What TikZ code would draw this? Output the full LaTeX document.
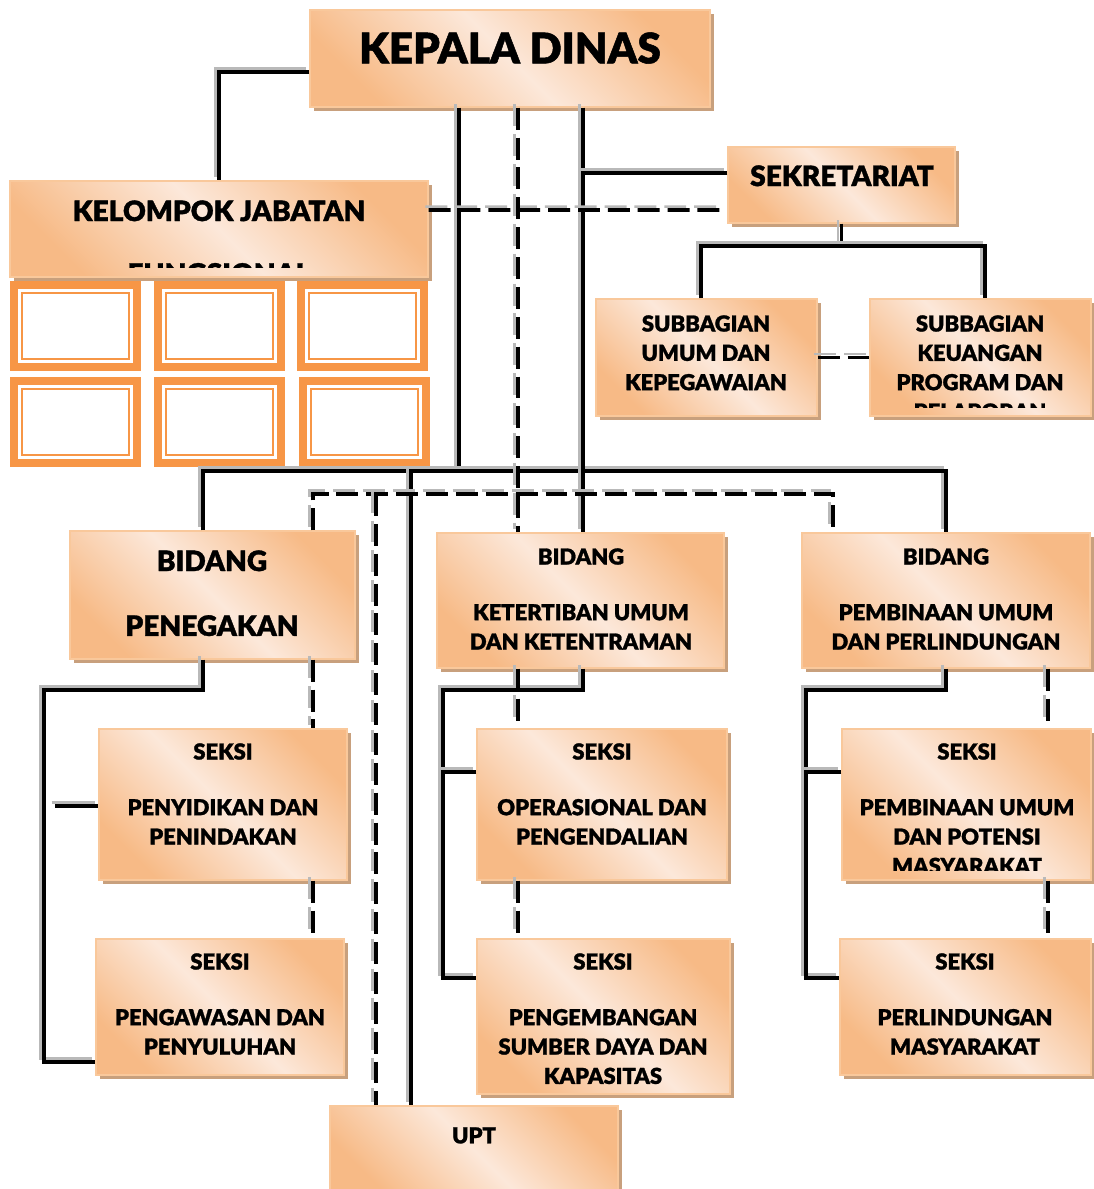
\documentclass[tikz,border=0pt]{standalone}
\usepackage{fontspec}
\newfontfamily\heavy{Lato Black}[FakeBold=1.2]
\usetikzlibrary{positioning,shadows}

\definecolor{peachD}{RGB}{247,186,134}
\definecolor{peachL}{RGB}{252,232,218}
\definecolor{boxedge}{RGB}{249,200,155}
\definecolor{shadowc}{RGB}{200,160,125}
\definecolor{frameor}{RGB}{247,150,70}

\tikzset{
  box/.style={draw=boxedge, line width=0.8pt, inner sep=0pt,
    top color=peachD, bottom color=peachD, middle color=peachL, shading angle=-45,
    drop shadow={shadow xshift=0.08cm, shadow yshift=-0.08cm, fill=shadowc, opacity=1}},
  frm/.style={anchor=north west, fill=frameor, minimum width=2.62cm, minimum height=1.8cm,
    inner sep=0pt, outer sep=0pt,
    path picture={
      \fill[white] ([shift={(0.16cm,-0.16cm)}]path picture bounding box.north west)
        rectangle ([shift={(-0.16cm,0.16cm)}]path picture bounding box.south east);
      \draw[frameor, line width=1.3pt] ([shift={(0.24cm,-0.24cm)}]path picture bounding box.north west)
        rectangle ([shift={(-0.24cm,0.24cm)}]path picture bounding box.south east);}},
  txt/.style={anchor=north, inner sep=0pt, align=center, font=\heavy\fontsize{12.5}{16.7}\selectfont},
  bigtxt/.style={anchor=north, inner sep=0pt, align=center},
  conn/.style={draw=black, line width=2pt,
    preaction={draw=gray!55, line width=1.4pt, transform canvas={xshift=-1.9pt, yshift=1.9pt}}},
  dconn/.style={draw=black, line width=2pt, dash pattern=on 12.5pt off 4.5pt,
    preaction={draw=gray!55, line width=1.4pt, dash pattern=on 12.5pt off 4.5pt,
      transform canvas={xshift=-1.9pt, yshift=1.9pt}}}
}

\begin{document}
\begin{tikzpicture}[x=0.02cm, y=-0.02cm]
\useasboundingbox (0,0) rectangle (1093,1189);

% boxes
\node[box, minimum width=8cm, minimum height=1.94cm] (kd) at (510,58.5) {};
\node[box, minimum width=8.36cm, minimum height=1.92cm] (kjf) at (219,229) {};
\node[box, minimum width=4.54cm, minimum height=1.52cm] (sek) at (841.5,185) {};
\node[box, minimum width=4.42cm, minimum height=2.34cm] (sbu) at (706.5,357.5) {};
\node[box, minimum width=4.42cm, minimum height=2.34cm] (sbk) at (980.5,357.5) {};
\node[box, minimum width=5.7cm, minimum height=2.56cm] (bpg) at (212.5,595) {};
\node[box, minimum width=5.74cm, minimum height=2.7cm] (bkt) at (580.5,600.5) {};
\node[box, minimum width=5.76cm, minimum height=2.7cm] (bpb) at (946,600.5) {};
\node[box, minimum width=4.96cm, minimum height=3.02cm] (s1) at (223,804.5) {};
\node[box, minimum width=4.96cm, minimum height=2.72cm] (s2) at (220,1007) {};
\node[box, minimum width=5cm, minimum height=3.02cm] (s3) at (602,804.5) {};
\node[box, minimum width=5.06cm, minimum height=3.1cm] (s4) at (603.5,1016.5) {};
\node[box, minimum width=4.98cm, minimum height=3.02cm] (s5) at (966.5,804.5) {};
\node[box, minimum width=5.02cm, minimum height=2.72cm] (s6) at (965.5,1007) {};
\node[box, minimum width=5.76cm, minimum height=1.76cm] (upt) at (474,1150) {};

% jabatan fungsional frames
\node[frm] (f1) at (10,281) {};
\node[frm] (f2) at (154,281) {};
\node[frm] (f3) at (297,281) {};
\node[frm] (f4) at (10,377) {};
\node[frm] (f5) at (154,377) {};
\node[frm] (f6) at (299,377) {};

% texts
\node[bigtxt, font=\heavy\fontsize{24}{28}\selectfont] (kdtxt) at (510,32) {KEPALA DINAS};
\begin{scope}
\clip ([yshift=0.2cm]kjf.south west) rectangle (kjf.north east);
\node[bigtxt, font=\heavy\fontsize{16}{35.7}\selectfont] (kjftxt) at (219,200) {KELOMPOK JABATAN\\FUNGSIONAL};
\end{scope}
\node[bigtxt, font=\heavy\fontsize{16}{20}\selectfont] (sektxt) at (842,165) {SEKRETARIAT};
\node[txt] (sbutxt) at (706,315) {SUBBAGIAN\\UMUM DAN\\KEPEGAWAIAN};
\begin{scope}
\clip ([yshift=0.18cm]sbk.south west) rectangle (sbk.north east);
\node[txt] (sbktxt) at (980,315) {SUBBAGIAN\\KEUANGAN\\PROGRAM DAN\\PELAPORAN};
\end{scope}
\node[bigtxt, font=\heavy\fontsize{16}{36.9}\selectfont] (bpgtxt) at (212,550) {BIDANG\\PENEGAKAN};
\node[txt] (bkttxt) at (581,548) {BIDANG\\[15pt]KETERTIBAN UMUM\\DAN KETENTRAMAN};
\node[txt] (bpbtxt) at (946,548) {BIDANG\\[15pt]PEMBINAAN UMUM\\DAN PERLINDUNGAN};
\node[txt] (s1txt) at (223,743) {SEKSI\\[15pt]PENYIDIKAN DAN\\PENINDAKAN};
\node[txt] (s2txt) at (220,953) {SEKSI\\[15pt]PENGAWASAN DAN\\PENYULUHAN};
\node[txt] (s3txt) at (602,743) {SEKSI\\[15pt]OPERASIONAL DAN\\PENGENDALIAN};
\node[txt] (s4txt) at (603,953) {SEKSI\\[15pt]PENGEMBANGAN\\SUMBER DAYA DAN\\KAPASITAS};
\begin{scope}
\clip ([yshift=0.2cm]s5.south west) rectangle (s5.north east);
\node[txt] (s5txt) at (967,743) {SEKSI\\[15pt]PEMBINAAN UMUM\\DAN POTENSI\\MASYARAKAT};
\end{scope}
\node[txt] (s6txt) at (965,953) {SEKSI\\[15pt]PERLINDUNGAN\\MASYARAKAT};
\node[txt] (upttxt) at (474,1127) {UPT};

% helper points
\coordinate (bus) at (459,471);
\coordinate (upl) at (411,471);
\coordinate (dbus) at (376,494);
\coordinate (xk) at (583,0);
\coordinate (xl) at (313,0);
\coordinate (xm) at (518,0);
\coordinate (xr) at (1048,0);
\coordinate (st) at (841.5,246);
\coordinate (lk) at (44,690);
\coordinate (mk) at (443,690);
\coordinate (rk) at (806,690);
\coordinate (lt) at (55,806);

% solid lines
\draw[conn] ([yshift=-0.27cm]kd.west) -| (kjf.north);
\draw[conn] (kd.south -| bus) -- (bus);
\draw[conn] ([xshift=-0.19cm]bpg.north) |- (bus) -| (bpb.north);
\draw[conn] (upl) -- (upl |- upt.north);
\draw[conn] (kd.south -| xk) -- (bkt.north -| xk);
\draw[conn] ([yshift=0.24cm]sek.west) -- ([yshift=0.24cm]sek.west -| xk);
\draw[conn] (sek.south) -- (st);
\draw[conn] ([xshift=-0.11cm]sbu.north) |- (st) -| ([xshift=0.09cm]sbk.north);
\draw[conn] ([xshift=-0.19cm]bpg.south) |- (lk) |- ([yshift=-1.1cm]s2.west);
\draw[conn] (lt) -- (lt -| s1.west);
\draw[conn] (bkt.south -| xk) |- (mk) |- ([yshift=0.77cm]s4.west);
\draw[conn] ([yshift=0.65cm]s3.west) -- ([yshift=0.65cm]s3.west -| mk);
\draw[conn] (bpb.south) |- (rk) |- ([yshift=0.58cm]s6.west);
\draw[conn] ([yshift=0.65cm]s5.west) -- ([yshift=0.65cm]s5.west -| rk);

% dashed lines
\draw[dconn] ([yshift=0.38cm]kjf.east) -- ([yshift=-0.5cm]sek.west);
\draw[dconn] (kd.south -| xm) -- (bkt.north -| xm);
\draw[dconn] (bpg.north -| xl) |- (dbus) -| ([xshift=-2.26cm]bpb.north);
\draw[dconn] (dbus) -- (dbus |- upt.north);
\draw[dconn] (bpg.south -| xl) -- (s1.north -| xl);
\draw[dconn] (s1.south -| xl) -- (s2.north -| xl);
\draw[dconn] (bkt.south -| xm) -- (s3.north -| xm);
\draw[dconn] (s3.south -| xm) -- (s4.north -| xm);
\draw[dconn] (bpb.south -| xr) -- (s5.north -| xr);
\draw[dconn] (s5.south -| xr) -- (s6.north -| xr);
\draw[dconn] (sbu.east) -- (sbk.west);

\end{tikzpicture}
\end{document}
